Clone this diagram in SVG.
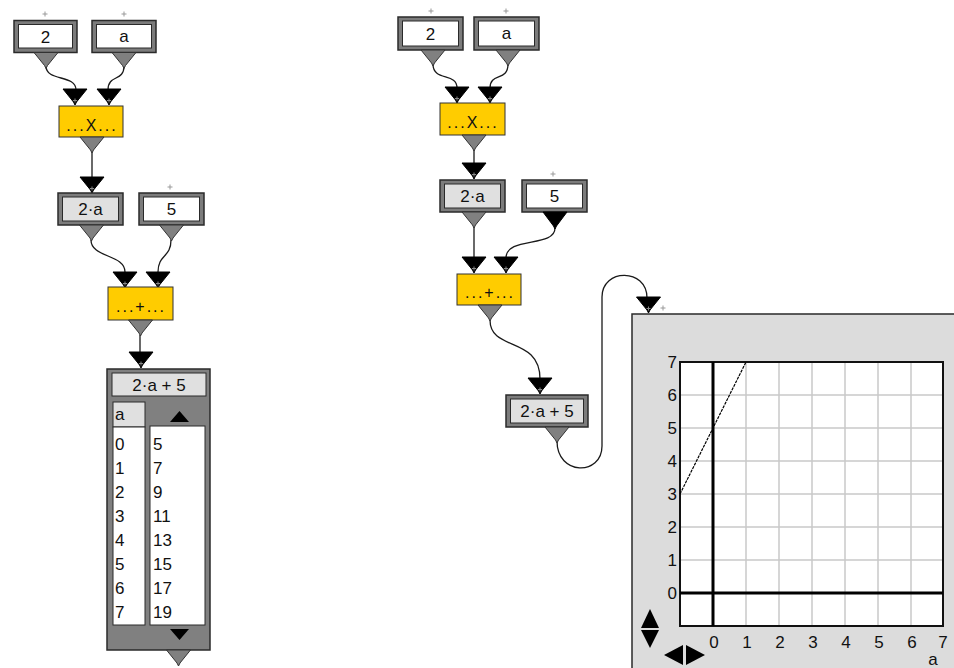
<svg xmlns="http://www.w3.org/2000/svg" width="954" height="668" viewBox="0 0 954 668">
<style>
text{font-family:"Liberation Sans",Arial,sans-serif;font-size:17px;fill:#111}
.c{text-anchor:middle}
.e{text-anchor:end}
.dots{letter-spacing:2px;font-size:16px}
.outer{fill:#7c7c7c;stroke:#2a2a2a;stroke-width:1.5}
.inw{fill:#fff;stroke:#2a2a2a;stroke-width:1}
.ing{fill:#e0e0e0;stroke:#2a2a2a;stroke-width:1}
.op{fill:#ffcc00;stroke:#333;stroke-width:1}
.wire{fill:none;stroke:#1a1a1a;stroke-width:1.3}
.grid{stroke:#c8c8c8;stroke-width:1.5}
.pl{stroke:#999;stroke-width:1}
</style>
<defs>
<g id="outT"><polygon points="-12,0 12,0 1.5,13 0,16 -1.5,13" fill="#808080" stroke="#333" stroke-width="1"/></g>
<g id="outB"><polygon points="-12,0 12,0 1.5,14 0,17 -1.5,14" fill="#000" stroke="#000" stroke-width="1"/></g>
<g id="inT"><polygon points="-12,0 12,0 1.5,13 0,16 -1.5,13" fill="#000" stroke="#000" stroke-width="1"/><path d="M-2,11.5h4M0,9.5v4" stroke="#888" stroke-width="1"/></g>
<g id="plus"><path d="M-2.5,0h5M0,-2.5v5" class="pl"/></g>
</defs>

<g id="connectors">
<path class="wire" d="M46,66 C46,82 76,74 76,90"/>
<path class="wire" d="M124,66 C124,82 108,74 108,90"/>
<path class="wire" d="M92,150 L92,178"/>
<path class="wire" d="M91,240 C91,258 125,254 125,272"/>
<path class="wire" d="M171,240 C171,258 158,254 158,272"/>
<path class="wire" d="M140,335 L140,353"/>
<path class="wire" d="M433,64 C433,82 457,72 457,88"/>
<path class="wire" d="M508,64 C508,82 490,72 490,88"/>
<path class="wire" d="M474,150 L474,164"/>
<path class="wire" d="M474,227 L474,258"/>
<path class="wire" d="M555,228 C555,248 506,236 506,258"/>
<path class="wire" d="M490,320 C490,352 540,336 540,379"/>
<path class="wire" d="M557,441 C557,476 602,476 602,446 L602,297 C602,268 647,268 647,298"/>
</g>

<!-- LEFT -->
<g id="L_in2">
<use href="#plus" x="45" y="14"/>
<rect class="outer" x="14" y="20.5" width="63" height="32"/>
<rect class="inw" x="18.5" y="24.5" width="54" height="23.5"/>
<text class="c" x="45.5" y="43">2</text>
<use href="#outT" x="46" y="52.5"/>
</g>
<g id="L_ina">
<use href="#plus" x="124" y="14"/>
<rect class="outer" x="92" y="20.5" width="64" height="32"/>
<rect class="inw" x="96.5" y="24.5" width="55" height="23.5"/>
<text class="c" x="124" y="42">a</text>
<use href="#outT" x="124" y="52.5"/>
</g>
<g id="L_mul">
<use href="#inT" x="75" y="89"/>
<use href="#inT" x="109" y="89"/>
<rect class="op" x="59" y="106" width="64" height="31"/>
<text class="c dots" x="92" y="131">...X...</text>
<use href="#outT" x="92" y="137"/>
</g>
<g id="L_2a">
<use href="#inT" x="92" y="177"/>
<rect class="outer" x="58" y="193" width="65" height="32"/>
<rect class="ing" x="62.5" y="197" width="56" height="24"/>
<text class="c" x="90.5" y="215">2·a</text>
<use href="#outT" x="91.5" y="225"/>
</g>
<g id="L_in5">
<use href="#plus" x="170" y="187"/>
<rect class="outer" x="139" y="193" width="65" height="32"/>
<rect class="inw" x="143.5" y="197" width="56" height="24"/>
<text class="c" x="171.5" y="215">5</text>
<use href="#outT" x="171.5" y="225"/>
</g>
<g id="L_add">
<use href="#inT" x="125" y="272"/>
<use href="#inT" x="158" y="272"/>
<rect class="op" x="108" y="287" width="65" height="33"/>
<text class="c dots" x="141" y="312">...+...</text>
<use href="#outT" x="140.5" y="320"/>
</g>
<g id="L_table">
<use href="#inT" x="141" y="352"/>
<rect x="107" y="369" width="103" height="281" fill="#808080" stroke="#2a2a2a" stroke-width="1.5"/>
<rect class="ing" x="112" y="373" width="94" height="23"/>
<text class="c" x="159" y="391">2·a + 5</text>
<rect class="ing" x="113" y="402" width="32" height="25"/>
<text x="115" y="420">a</text>
<rect class="inw" x="113" y="427" width="32" height="198"/>
<rect class="inw" x="150" y="426" width="55" height="199"/>
<polygon points="170,422 189,422 179.5,411" fill="#000"/>
<polygon points="170,629 189,629 179.5,640" fill="#000"/>
<g>
<text x="115" y="450">0</text><text x="153" y="450">5</text>
<text x="115" y="474">1</text><text x="153" y="474">7</text>
<text x="115" y="498">2</text><text x="153" y="498">9</text>
<text x="115" y="522">3</text><text x="153" y="522">11</text>
<text x="115" y="546">4</text><text x="153" y="546">13</text>
<text x="115" y="570">5</text><text x="153" y="570">15</text>
<text x="115" y="594">6</text><text x="153" y="594">17</text>
<text x="115" y="618">7</text><text x="153" y="618">19</text>
</g>
<use href="#outT" x="178.5" y="650"/>
</g>

<!-- RIGHT -->
<g id="R_in2">
<use href="#plus" x="431" y="11"/>
<rect class="outer" x="398" y="17" width="65" height="33"/>
<rect class="inw" x="402.5" y="21" width="56" height="25"/>
<text class="c" x="430.5" y="40">2</text>
<use href="#outT" x="433" y="50"/>
</g>
<g id="R_ina">
<use href="#plus" x="506" y="11"/>
<rect class="outer" x="474" y="17" width="65" height="33"/>
<rect class="inw" x="478.5" y="21" width="56" height="25"/>
<text class="c" x="506.5" y="39">a</text>
<use href="#outT" x="508" y="50"/>
</g>
<g id="R_mul">
<use href="#inT" x="457" y="87"/>
<use href="#inT" x="490" y="87"/>
<rect class="op" x="440" y="103" width="65" height="32"/>
<text class="c dots" x="473" y="128">...X...</text>
<use href="#outT" x="474" y="135"/>
</g>
<g id="R_2a">
<use href="#inT" x="474" y="163"/>
<rect class="outer" x="440" y="180" width="65" height="32"/>
<rect class="ing" x="444.5" y="184" width="56" height="24"/>
<text class="c" x="472.5" y="202">2·a</text>
<use href="#outT" x="474" y="212"/>
</g>
<g id="R_in5">
<use href="#plus" x="553" y="174"/>
<rect class="outer" x="522" y="180" width="65" height="32"/>
<rect class="inw" x="526.5" y="184" width="56" height="24"/>
<text class="c" x="554.5" y="202">5</text>
<use href="#outB" x="555" y="212"/>
</g>
<g id="R_add">
<use href="#inT" x="474" y="257"/>
<use href="#inT" x="506" y="257"/>
<rect class="op" x="457" y="274" width="64" height="31"/>
<text class="c dots" x="490" y="298">...+...</text>
<use href="#outT" x="490" y="305"/>
</g>
<g id="R_res">
<use href="#inT" x="540" y="378"/>
<rect class="outer" x="506" y="395" width="82" height="32"/>
<rect class="ing" x="510.5" y="399" width="73" height="24"/>
<text class="c" x="547" y="417">2·a + 5</text>
<use href="#outT" x="557" y="427"/>
</g>
<g id="R_graph">
<use href="#inT" x="648.5" y="297"/>
<use href="#plus" x="663" y="308"/>
<rect x="632" y="314" width="330" height="360" fill="#dcdcdc" stroke="#2a2a2a" stroke-width="1.5"/>
<rect x="680" y="362" width="263" height="264" fill="#fff"/>
<g class="grid">
<line x1="746" y1="362" x2="746" y2="626"/>
<line x1="779" y1="362" x2="779" y2="626"/>
<line x1="812" y1="362" x2="812" y2="626"/>
<line x1="845" y1="362" x2="845" y2="626"/>
<line x1="878" y1="362" x2="878" y2="626"/>
<line x1="911" y1="362" x2="911" y2="626"/>
<line x1="680" y1="395" x2="943" y2="395"/>
<line x1="680" y1="428" x2="943" y2="428"/>
<line x1="680" y1="461" x2="943" y2="461"/>
<line x1="680" y1="494" x2="943" y2="494"/>
<line x1="680" y1="527" x2="943" y2="527"/>
<line x1="680" y1="560" x2="943" y2="560"/>
</g>
<rect x="680" y="362" width="263" height="264" fill="none" stroke="#111" stroke-width="2"/>
<line x1="713" y1="362" x2="713" y2="626" stroke="#000" stroke-width="3"/>
<line x1="680" y1="593" x2="943" y2="593" stroke="#000" stroke-width="3"/>
<line x1="680" y1="494" x2="746" y2="362" stroke="#000" stroke-width="1.2" stroke-dasharray="3 1"/>
<g class="e">
<text x="677" y="368">7</text>
<text x="677" y="401">6</text>
<text x="677" y="434">5</text>
<text x="677" y="467">4</text>
<text x="677" y="500">3</text>
<text x="677" y="533">2</text>
<text x="677" y="566">1</text>
<text x="677" y="599">0</text>
</g>
<g class="c">
<text x="714" y="648">0</text>
<text x="747" y="648">1</text>
<text x="780" y="648">2</text>
<text x="813" y="648">3</text>
<text x="846" y="648">4</text>
<text x="879" y="648">5</text>
<text x="912" y="648">6</text>
<text x="943" y="648">7</text>
<text x="933" y="665">a</text>
</g>
<polygon points="641,628 659,628 650,609" fill="#000"/>
<polygon points="641,630 659,630 650,648" fill="#000"/>
<polygon points="683,645 683,665 664,655" fill="#000"/>
<polygon points="686,645 686,665 705,655" fill="#000"/>
</g>
</svg>
